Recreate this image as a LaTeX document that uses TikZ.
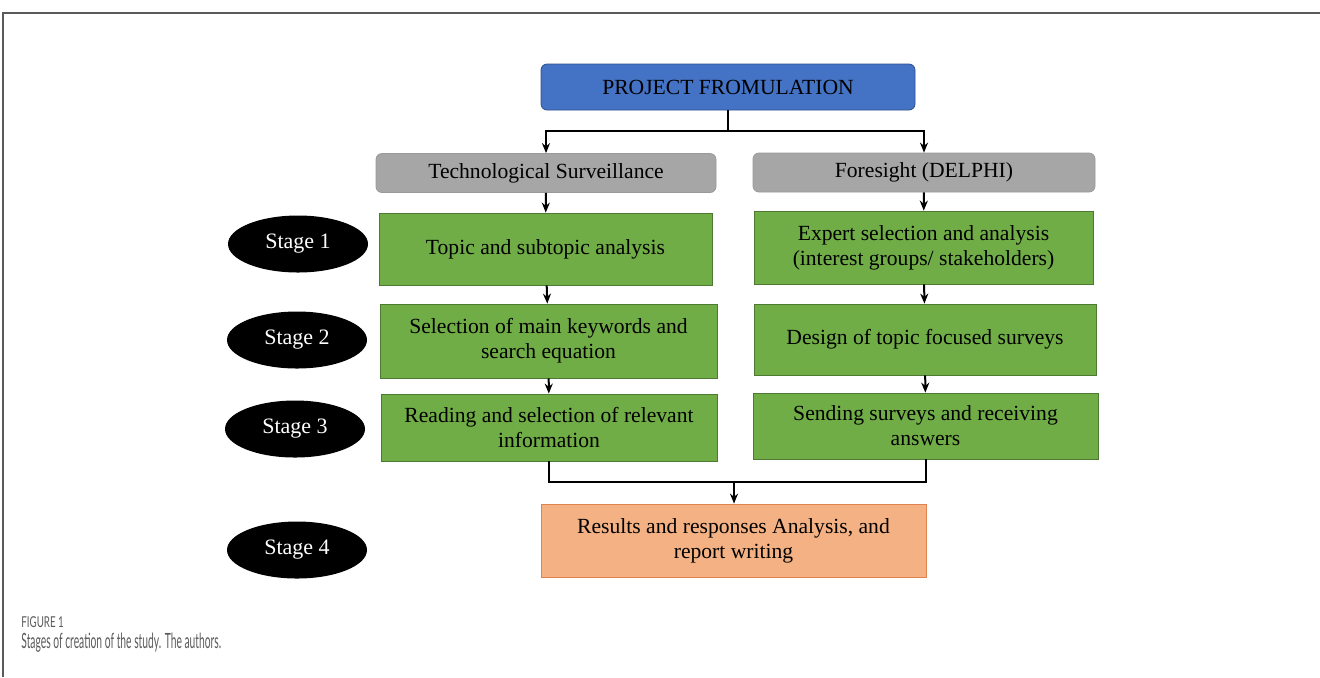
\documentclass[tikz,border=0pt]{standalone}
\usepackage{fontspec}
\setmainfont{Liberation Serif}
\newfontfamily\capfont{Lato}
\usetikzlibrary{shapes.geometric}
\usetikzlibrary{arrows.meta}

\definecolor{projblue}{RGB}{68,114,196}
\definecolor{stepgreen}{RGB}{112,173,71}
\definecolor{headgray}{RGB}{166,166,166}
\definecolor{resorange}{RGB}{244,177,131}
\definecolor{resedge}{RGB}{225,130,80}
\definecolor{capgray}{RGB}{90,90,90}

\tikzset{
    head/.style={draw=gray!80,fill=headgray,rounded corners=3pt,minimum height=19.5pt,font=\fontsize{10.8}{12}\selectfont},
    stepbox/.style={draw=stepgreen!70!black,fill=stepgreen,align=center,font=\fontsize{10.8}{12.5}\selectfont},
    stage/.style={ellipse,fill=black,text=white,minimum width=70pt,minimum height=28.5pt,font=\fontsize{11}{13}\selectfont},
    flow/.style={line width=1pt,-{Stealth[length=5pt,width=4pt]}}
}

\begin{document}
\begin{tikzpicture}[x=0.5pt,y=-0.5pt]
        \useasboundingbox (0,0) rectangle (1320,677);
        \draw[capgray,line width=0.8pt] (3,677) -- (3,13) -- (1320,13);
        \node[draw=projblue!70!black,fill=projblue,rounded corners=3pt,minimum width=187pt,minimum height=23pt,font=\fontsize{10.8}{12}\selectfont] (proj) at (728,87) {PROJECT FROMULATION};
        \node[head,minimum width=170pt] (tech) at (546,173) {Technological Surveillance};
        \node[head,minimum width=171pt] (fore) at (924,172.5) {Foresight (DELPHI)};
        \node[stepbox,minimum width=166.5pt,minimum height=36pt] (topic) at (545.5,249) {Topic and subtopic analysis};
        \node[stepbox,minimum width=168.5pt,minimum height=37pt] (keyw) at (548.5,341) {Selection of main keywords and\\search equation};
        \node[stepbox,minimum width=168pt,minimum height=33.5pt] (read) at (549,427.5) {Reading and selection of relevant\\information};
        \node[stepbox,minimum width=169.5pt,minimum height=36.5pt] (expert) at (923.5,247.5) {Expert selection and analysis\\(interest groups/ stakeholders)};
        \node[stepbox,minimum width=171pt,minimum height=35.5pt] (design) at (925,339.5) {Design of topic focused surveys};
        \node[stepbox,minimum width=172.5pt,minimum height=33pt] (send) at (925.5,426) {Sending surveys and receiving\\answers};
        \node[draw=resedge,fill=resorange,align=center,minimum width=192.5pt,minimum height=36.5pt,font=\fontsize{10.8}{12.5}\selectfont] (result) at (733.5,540.5) {Results and responses Analysis, and\\report writing};
        \node[stage] (s1) at (298,244) {Stage 1};
        \node[stage] (s2) at (297,340) {Stage 2};
        \node[stage] (s3) at (295,429) {Stage 3};
        \node[stage] (s4) at (297,550) {Stage 4};
        % split and merge
        \coordinate (split) at (728,131);
        \coordinate (merge) at (734,482);
        \draw[line width=1pt] (proj.south) -- (split);
        \draw[flow] (split) -| (tech.north);
        \draw[flow] (split) -| (fore.north);
        \draw[flow] (tech) -- (topic);
        \draw[flow] (topic) -- (keyw);
        \draw[flow] (keyw) -- (read);
        \draw[flow] (fore) -- (expert);
        \draw[flow] (expert) -- (design);
        \draw[flow] (design) -- (send);
        \draw[line width=1pt] (read.south) |- (merge);
        \draw[line width=1pt] (send.south) |- (merge);
        \draw[flow] (merge) -- (result.north -| merge);
        \node[anchor=west,inner sep=0pt,text=capgray,font=\capfont\fontsize{7.5}{9}\selectfont] (fig) at (21,622) {\scalebox{0.65}[1]{FIGURE 1}};
        \node[anchor=west,inner sep=0pt,text=capgray,font=\capfont\fontsize{10.5}{12}\selectfont] (cap) at (21,643) {\scalebox{0.49}[1]{Stages of creation of the study. The authors.}};
    \end{tikzpicture}
\end{document}
